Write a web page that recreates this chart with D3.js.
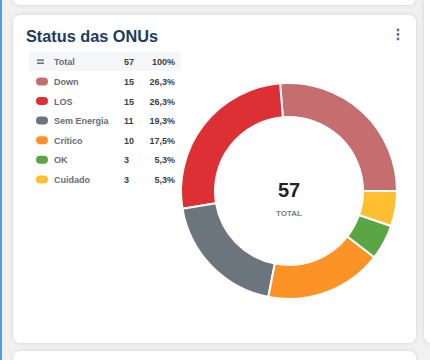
<!DOCTYPE html>
<html>
<head>
<meta charset="utf-8">
<script src="https://cdn.jsdelivr.net/npm/d3@7"></script>
<style>
  html, body { margin: 0; padding: 0; background: #f1f1f2; }
  svg { display: block; font-family: "Liberation Sans", Arial, sans-serif; }
</style>
</head>
<body>
<svg width="430" height="360"></svg>
<script>
(function() {
  // legend / slice data
  var labels = ["Down", "LOS", "Sem Energia", "Crítico", "OK", "Cuidado"],
      counts = [15, 15, 11, 10, 3, 3],
      percents = ["26,3%", "26,3%", "19,3%", "17,5%", "5,3%", "5,3%"],
      colors = ["#c56d6f", "#dc3034", "#6c747e", "#fd9326", "#5aa644", "#ffbf30"];
  var totalLabel = "Total", totalCount = 57, totalPercent = "100%";

  var svg = d3.select("svg");

  var defs = svg.append("defs");
  var f = defs.append("filter").attr("id", "shadow")
    .attr("x", "-10%").attr("y", "-10%").attr("width", "120%").attr("height", "120%");
  f.append("feDropShadow").attr("dx", 0).attr("dy", 0).attr("stdDeviation", 2)
    .attr("flood-color", "#000").attr("flood-opacity", 0.13);

  // left accent strip
  svg.append("rect").attr("x", 0).attr("y", 0).attr("width", 2).attr("height", 360).attr("fill", "#5b9be0");

  // neighbouring cards
  var cards = [
    {x: 13, y: -30, w: 403, h: 35},
    {x: 424, y: -30, w: 60, h: 373},
    {x: 13, y: 351, w: 403, h: 40},
    {x: 13, y: 15, w: 403, h: 328}
  ];
  svg.selectAll(".card").data(cards).enter().append("rect")
    .attr("class", "card")
    .attr("x", function(d) { return d.x; })
    .attr("y", function(d) { return d.y; })
    .attr("width", function(d) { return d.w; })
    .attr("height", function(d) { return d.h; })
    .attr("rx", 8)
    .attr("fill", "#fff")
    .attr("filter", "url(#shadow)");

  // title
  svg.append("text").attr("x", 26).attr("y", 42)
    .attr("font-size", 16.3).attr("font-weight", "bold").attr("fill", "#1c3b5e")
    .text("Status das ONUs");

  // kebab menu
  svg.selectAll(".dot").data([30, 34.5, 39]).enter().append("circle")
    .attr("cx", 398).attr("cy", function(d) { return d; }).attr("r", 1.4).attr("fill", "#5a6f8a");

  // legend table
  var leg = svg.append("g");
  leg.append("rect").attr("x", 29).attr("y", 52).attr("width", 152).attr("height", 19).attr("fill", "#f5f6f8");
  leg.append("rect").attr("x", 37).attr("y", 59.5).attr("width", 7).attr("height", 1.3).attr("fill", "#555");
  leg.append("rect").attr("x", 37).attr("y", 62.5).attr("width", 7).attr("height", 1.3).attr("fill", "#555");

  var y = d3.scaleBand().domain(d3.range(-1, labels.length)).range([52, 52 + 19.6 * 7]);

  function row(sel, i, name, cnt, pct) {
    var cy = y(i) + y.bandwidth() / 2 + 3.5;
    sel.append("text").attr("x", 54).attr("y", cy).attr("font-size", 9).attr("font-weight", "bold")
      .attr("fill", "#656c77").text(name);
    sel.append("text").attr("x", 124).attr("y", cy).attr("font-size", 9).attr("font-weight", "bold")
      .attr("fill", "#3a3f46").text(cnt);
    sel.append("text").attr("x", 175).attr("y", cy).attr("font-size", 9).attr("font-weight", "bold")
      .attr("text-anchor", "end").attr("fill", "#3a3f46").text(pct);
  }
  row(leg, -1, totalLabel, totalCount, totalPercent);
  labels.forEach(function(l, i) {
    leg.append("rect").attr("x", 36).attr("y", y(i) + y.bandwidth() / 2 - 4)
      .attr("width", 12).attr("height", 8).attr("rx", 4).attr("fill", colors[i]);
    row(leg, i, l, counts[i], percents[i]);
  });

  // donut
  var cx = 289, cy = 191, outer = 108, inner = 74;
  var pie = d3.pie().sort(null).value(function(d) { return d; })
    .startAngle(Math.PI / 2).endAngle(Math.PI / 2 - 2 * Math.PI);
  var arc = d3.arc().innerRadius(inner).outerRadius(outer);
  var g = svg.append("g").attr("transform", "translate(" + cx + "," + cy + ")");
  g.selectAll("path").data(pie(counts)).enter().append("path")
    .attr("d", arc)
    .attr("fill", function(d, i) { return colors[i]; })
    .attr("stroke", "#fff").attr("stroke-width", 2).attr("stroke-linejoin", "round");

  g.append("text").attr("y", 6).attr("text-anchor", "middle")
    .attr("font-size", 20).attr("font-weight", "bold").attr("fill", "#222").text(totalCount);
  g.append("text").attr("y", 25).attr("text-anchor", "middle")
    .attr("font-size", 8).attr("font-weight", "bold").attr("fill", "#7a7f87").text("TOTAL");
})();
</script>
</body>
</html>
